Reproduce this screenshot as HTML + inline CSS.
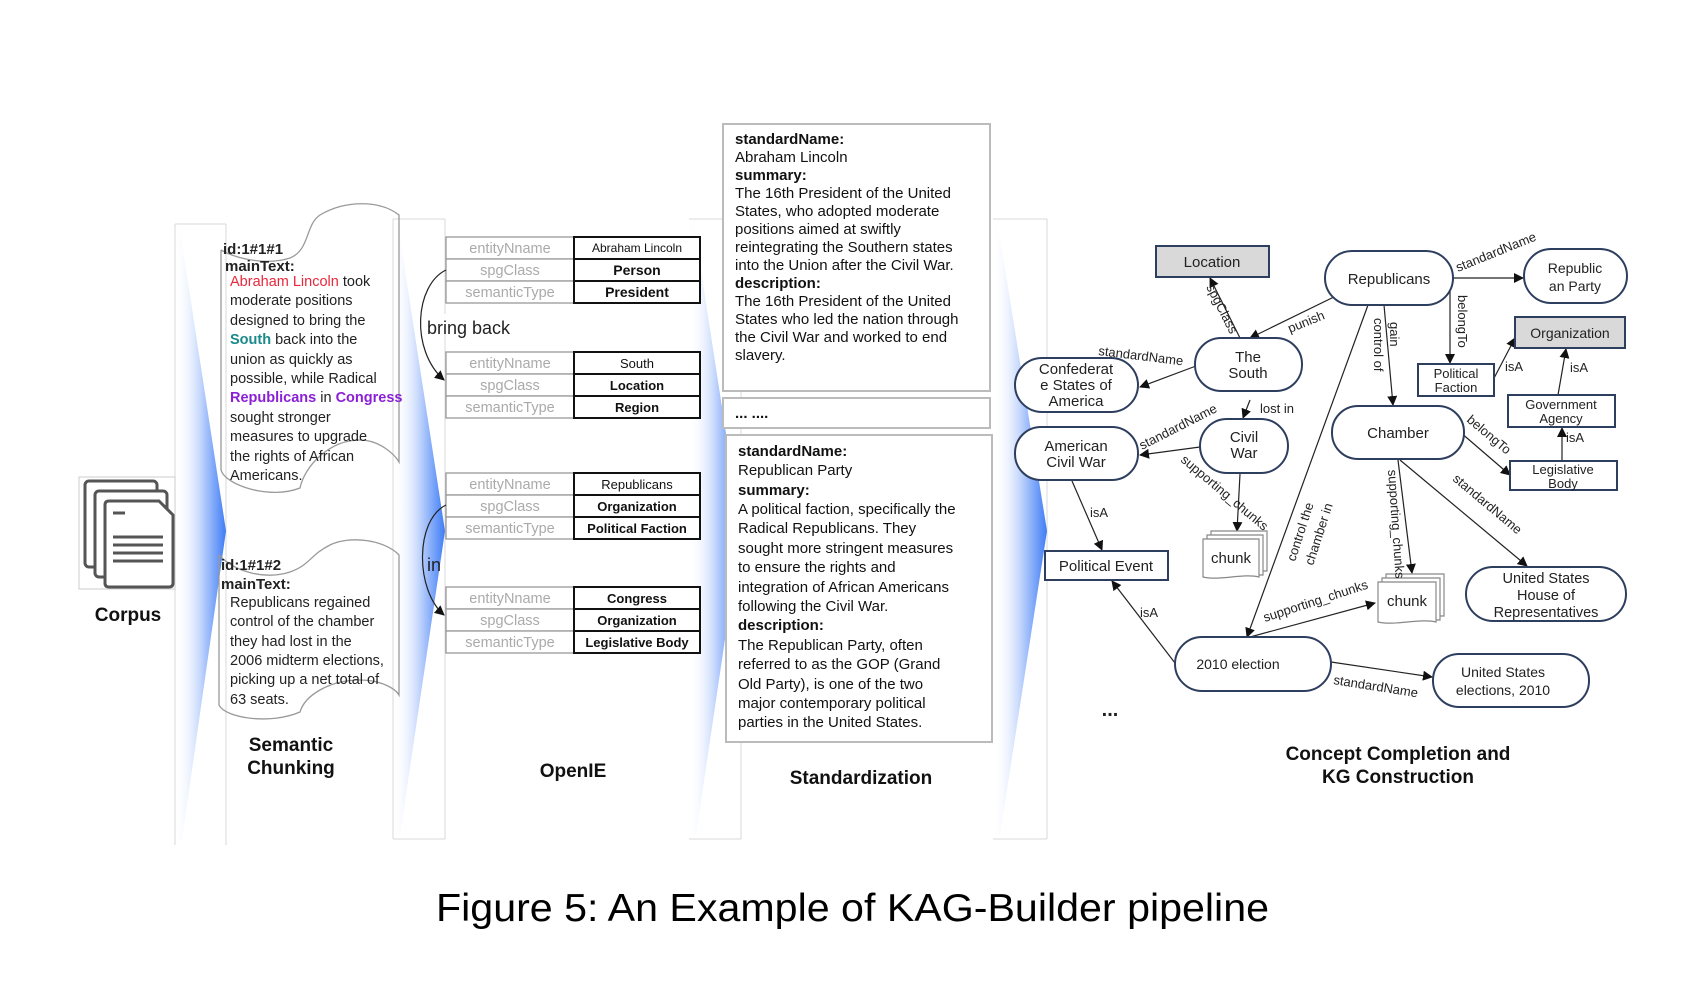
<!DOCTYPE html>
<html><head><meta charset="utf-8"><style>
html,body{margin:0;padding:0;background:#fff;}
svg{display:block;}
text{font-family:"Liberation Sans",Arial,sans-serif;}
</style></head><body>
<svg width="1706" height="996" viewBox="0 0 1706 996" xmlns="http://www.w3.org/2000/svg">
<defs>
<linearGradient id="bg" x1="0" y1="0" x2="1" y2="0">
<stop offset="0" stop-color="#ffffff" stop-opacity="0"/>
<stop offset="0.6" stop-color="#a9c4fb"/>
<stop offset="1" stop-color="#3f7df6"/>
</linearGradient>
<marker id="ar" markerWidth="10" markerHeight="10" refX="9" refY="5" orient="auto" markerUnits="userSpaceOnUse">
<path d="M0,0 L10,5 L0,10 z" fill="#111"/>
</marker>
</defs>

<!-- strips -->
<g stroke="#d8d8d8" stroke-width="1" fill="none">
<path d="M175,224 L226,224 M175,224 L175,845 M226,224 L226,845"/>
<path d="M393,219 L445,219 M393,219 L393,839 M445,219 L445,839 M393,839 L445,839"/>
<path d="M689,219 L741,219 M741,219 L741,839 M689,839 L741,839"/>
<path d="M993,219 L1047,219 M1047,219 L1047,839 M993,839 L1047,839"/>
</g>
<polygon points="180,230 226,531 182,840 175,840 175,230" fill="url(#bg)"/>
<polygon points="398,225 445,531 400,835 393,835 393,225" fill="url(#bg)"/>
<polygon points="694,225 741,531 696,835 689,835 689,225" fill="url(#bg)"/>
<polygon points="998,225 1047,531 1000,835 993,835 993,225" fill="url(#bg)"/>

<!-- corpus -->
<rect x="79" y="477" width="96" height="112" fill="#fff" stroke="#ccc" stroke-width="1"/>
<g fill="#fff" stroke="#555" stroke-width="3">
<rect x="85" y="481" width="72" height="86" rx="4"/>
<rect x="95" y="491" width="72" height="86" rx="4"/>
<path d="M105,505 q0,-4 4,-4 h50 l14,14 v68 q0,4 -4,4 h-60 q-4,0 -4,-4 z"/>
</g>
<g stroke="#555" stroke-width="3">
<line x1="113" y1="513" x2="125" y2="513"/>
<line x1="113" y1="537" x2="163" y2="537"/>
<line x1="113" y1="545" x2="163" y2="545"/>
<line x1="113" y1="553" x2="163" y2="553"/>
<line x1="113" y1="561" x2="163" y2="561"/>
</g>
<text x="128" y="621" font-size="19" font-weight="bold" text-anchor="middle" fill="#111">Corpus</text>

<!-- chunk docs -->
<g fill="none" stroke="#999" stroke-width="1.3">
<path d="M221,250 L221,470 C225,485 270,500 300,488 C305,465 330,440 360,440 C380,440 395,455 399,462 L399,215 C380,200 345,200 320,215 C305,225 310,250 290,258 C265,266 235,258 221,250"/>
<path d="M219,555 L219,705 C225,718 270,725 300,712 C305,695 330,680 360,680 C380,680 395,688 399,695 L399,555 C385,540 350,535 330,545 C310,555 310,565 290,572 C265,580 235,572 219,555"/>
</g>
<g font-size="14.5" fill="#222">
<text x="223" y="254" font-weight="bold" font-size="15">id:1#1#1</text>
<text x="225" y="271" font-weight="bold" font-size="15">mainText:</text>
<text x="230" y="286"><tspan fill="#e8283c">Abraham Lincoln</tspan> took</text>
<text x="230" y="305">moderate positions</text>
<text x="230" y="325">designed to bring the</text>
<text x="230" y="344"><tspan fill="#1a8a8a" font-weight="bold">South</tspan> back into the</text>
<text x="230" y="364">union as quickly as</text>
<text x="230" y="383">possible, while Radical</text>
<text x="230" y="402"><tspan fill="#8b1fd6" font-weight="bold">Republicans</tspan> in <tspan fill="#8b1fd6" font-weight="bold">Congress</tspan></text>
<text x="230" y="422">sought stronger</text>
<text x="230" y="441">measures to upgrade</text>
<text x="230" y="461">the rights of African</text>
<text x="230" y="480">Americans.</text>
<text x="221" y="570" font-weight="bold" font-size="15">id:1#1#2</text>
<text x="221" y="589" font-weight="bold" font-size="15">mainText:</text>
<text x="230" y="607">Republicans regained</text>
<text x="230" y="626">control of the chamber</text>
<text x="230" y="646">they had lost in the</text>
<text x="230" y="665">2006 midterm elections,</text>
<text x="230" y="684">picking up a net total of</text>
<text x="230" y="704">63 seats.</text>
</g>
<text x="291" y="751" font-size="19" font-weight="bold" text-anchor="middle" fill="#111">Semantic</text>
<text x="291" y="774" font-size="19" font-weight="bold" text-anchor="middle" fill="#111">Chunking</text>

<!-- OpenIE tables -->
<g id="tables">
<g stroke="#999" stroke-width="1.3" fill="#fff">
<rect x="446" y="237" width="128" height="22"/><rect x="446" y="259" width="128" height="22"/><rect x="446" y="281" width="128" height="22"/>
<rect x="446" y="352" width="128" height="22"/><rect x="446" y="374" width="128" height="22"/><rect x="446" y="396" width="128" height="22"/>
<rect x="446" y="473" width="128" height="22"/><rect x="446" y="495" width="128" height="22"/><rect x="446" y="517" width="128" height="22"/>
<rect x="446" y="587" width="128" height="22"/><rect x="446" y="609" width="128" height="22"/><rect x="446" y="631" width="128" height="22"/>
</g>
<g stroke="#111" stroke-width="2" fill="#fff">
<rect x="574" y="237" width="126" height="22"/><rect x="574" y="259" width="126" height="22"/><rect x="574" y="281" width="126" height="22"/>
<rect x="574" y="352" width="126" height="22"/><rect x="574" y="374" width="126" height="22"/><rect x="574" y="396" width="126" height="22"/>
<rect x="574" y="473" width="126" height="22"/><rect x="574" y="495" width="126" height="22"/><rect x="574" y="517" width="126" height="22"/>
<rect x="574" y="587" width="126" height="22"/><rect x="574" y="609" width="126" height="22"/><rect x="574" y="631" width="126" height="22"/>
</g>
<g fill="#aaa" font-size="14.5" text-anchor="middle">
<text x="510" y="253">entityNname</text><text x="510" y="275">spgClass</text><text x="510" y="297">semanticType</text>
<text x="510" y="368">entityNname</text><text x="510" y="390">spgClass</text><text x="510" y="412">semanticType</text>
<text x="510" y="489">entityNname</text><text x="510" y="511">spgClass</text><text x="510" y="533">semanticType</text>
<text x="510" y="603">entityNname</text><text x="510" y="625">spgClass</text><text x="510" y="647">semanticType</text>
</g>
<g fill="#111" font-size="13" text-anchor="middle">
<text x="637" y="252" font-size="12">Abraham Lincoln</text>
<text x="637" y="275" font-weight="bold" font-size="14">Person</text>
<text x="637" y="297" font-weight="bold" font-size="14">President</text>
<text x="637" y="368">South</text>
<text x="637" y="390" font-weight="bold">Location</text>
<text x="637" y="412" font-weight="bold">Region</text>
<text x="637" y="489">Republicans</text>
<text x="637" y="511" font-weight="bold">Organization</text>
<text x="637" y="533" font-weight="bold">Political Faction</text>
<text x="637" y="603" font-weight="bold">Congress</text>
<text x="637" y="625" font-weight="bold">Organization</text>
<text x="637" y="647" font-weight="bold">Legislative Body</text>
</g>
</g>
<path d="M446,270 C415,285 410,350 444,380" fill="none" stroke="#222" stroke-width="1.2" marker-end="url(#ar)"/>
<path d="M446,505 C415,520 415,590 444,615" fill="none" stroke="#222" stroke-width="1.2" marker-end="url(#ar)"/>
<rect x="424" y="314" width="90" height="20" fill="#fff"/>
<text x="427" y="334" font-size="18" fill="#222">bring back</text>
<text x="427" y="571" font-size="18" fill="#222">in</text>
<text x="573" y="777" font-size="19" font-weight="bold" text-anchor="middle" fill="#111">OpenIE</text>

<!-- Standardization -->
<g fill="#fff" stroke="#bbb" stroke-width="2">
<rect x="723" y="124" width="267" height="267"/>
<rect x="723" y="398" width="267" height="30"/>
<rect x="726" y="435" width="266" height="307"/>
</g>
<g font-size="15" fill="#111">
<text x="735" y="144" font-weight="bold">standardName:</text>
<text x="735" y="162">Abraham Lincoln</text>
<text x="735" y="180" font-weight="bold">summary:</text>
<text x="735" y="198">The 16th President of the United</text>
<text x="735" y="216">States, who adopted moderate</text>
<text x="735" y="234">positions aimed at swiftly</text>
<text x="735" y="252">reintegrating the Southern states</text>
<text x="735" y="270">into the Union after the Civil War.</text>
<text x="735" y="288" font-weight="bold">description:</text>
<text x="735" y="306">The 16th President of the United</text>
<text x="735" y="324">States who led the nation through</text>
<text x="735" y="342">the Civil War and worked to end</text>
<text x="735" y="360">slavery.</text>
<text x="735" y="418" font-weight="bold">... ....</text>
<text x="738" y="456" font-weight="bold">standardName:</text>
<text x="738" y="475">Republican Party</text>
<text x="738" y="495" font-weight="bold">summary:</text>
<text x="738" y="514">A political faction, specifically the</text>
<text x="738" y="533">Radical Republicans. They</text>
<text x="738" y="553">sought more stringent measures</text>
<text x="738" y="572">to ensure the rights and</text>
<text x="738" y="592">integration of African Americans</text>
<text x="738" y="611">following the Civil War.</text>
<text x="738" y="630" font-weight="bold">description:</text>
<text x="738" y="650">The Republican Party, often</text>
<text x="738" y="669">referred to as the GOP (Grand</text>
<text x="738" y="689">Old Party), is one of the two</text>
<text x="738" y="708">major contemporary political</text>
<text x="738" y="727">parties in the United States.</text>
</g>
<text x="861" y="784" font-size="19" font-weight="bold" text-anchor="middle" fill="#111">Standardization</text>

<!-- KG edges -->
<g stroke="#222" stroke-width="1.2" fill="none" marker-end="url(#ar)">
<line x1="1240" y1="338" x2="1210" y2="278"/>
<line x1="1340" y1="294" x2="1250" y2="338"/>
<line x1="1196" y1="366" x2="1140" y2="387"/>
<line x1="1250" y1="400" x2="1243" y2="418"/>
<line x1="1200" y1="447" x2="1140" y2="455"/>
<line x1="1240" y1="474" x2="1237" y2="531"/>
<line x1="1072" y1="481" x2="1102" y2="550"/>
<line x1="1175" y1="663" x2="1112" y2="581"/>
<line x1="1368" y1="305" x2="1247" y2="637"/>
<line x1="1250" y1="637" x2="1375" y2="603"/>
<line x1="1384" y1="305" x2="1393" y2="405"/>
<line x1="1453" y1="278" x2="1523" y2="278"/>
<line x1="1450" y1="281" x2="1450" y2="363"/>
<line x1="1492" y1="382" x2="1515" y2="338"/>
<line x1="1558" y1="395" x2="1566" y2="349"/>
<line x1="1562" y1="461" x2="1562" y2="428"/>
<line x1="1460" y1="432" x2="1510" y2="475"/>
<line x1="1398" y1="460" x2="1412" y2="573"/>
<line x1="1400" y1="460" x2="1527" y2="566"/>
<line x1="1331" y1="662" x2="1432" y2="677"/>
</g>

<!-- KG nodes -->
<g stroke="#2d3e5e" stroke-width="2" fill="#fff">
<rect x="1156" y="246" width="113" height="31" fill="#d9d9d9"/>
<rect x="1325" y="251" width="128" height="54" rx="27"/>
<rect x="1524" y="249" width="103" height="54" rx="27"/>
<rect x="1515" y="317" width="110" height="31" fill="#d9d9d9"/>
<rect x="1418" y="364" width="76" height="32"/>
<rect x="1508" y="395" width="107" height="32"/>
<rect x="1510" y="461" width="107" height="29"/>
<rect x="1195" y="338" width="107" height="53" rx="26"/>
<rect x="1015" y="358" width="123" height="54" rx="27"/>
<rect x="1200" y="419" width="88" height="54" rx="27"/>
<rect x="1015" y="427" width="123" height="53" rx="26"/>
<rect x="1332" y="406" width="132" height="53" rx="26"/>
<rect x="1045" y="551" width="123" height="29"/>
<rect x="1466" y="567" width="160" height="54" rx="27"/>
<rect x="1175" y="637" width="156" height="54" rx="27"/>
<rect x="1433" y="654" width="156" height="53" rx="26"/>
</g>
<!-- chunk stacks -->
<g fill="#fff" stroke="#888" stroke-width="1.2">
<path d="M1211,531 h56 v40 h-56 z"/><path d="M1207,535 h56 v40 h-56 z"/>
<path d="M1203,539 h56 v38 c-15,-4 -40,4 -56,0 z"/>
<path d="M1386,574 h58 v42 h-58 z"/><path d="M1382,578 h58 v42 h-58 z"/>
<path d="M1378,582 h58 v40 c-15,-4 -42,4 -58,0 z"/>
</g>
<g font-size="15" fill="#222" text-anchor="middle">
<text x="1212" y="267">Location</text>
<text x="1389" y="284">Republicans</text>
<text x="1575" y="273" font-size="14">Republic</text>
<text x="1575" y="291" font-size="14">an Party</text>
<text x="1570" y="338" font-size="14">Organization</text>
<text x="1456" y="378" font-size="13">Political</text>
<text x="1456" y="392" font-size="13">Faction</text>
<text x="1561" y="409" font-size="13">Government</text>
<text x="1561" y="423" font-size="13">Agency</text>
<text x="1563" y="474" font-size="13">Legislative</text>
<text x="1563" y="488" font-size="13">Body</text>
<text x="1248" y="362">The</text>
<text x="1248" y="378">South</text>
<text x="1076" y="374">Confederat</text>
<text x="1076" y="390">e States of</text>
<text x="1076" y="406">America</text>
<text x="1244" y="442">Civil</text>
<text x="1244" y="458">War</text>
<text x="1076" y="451">American</text>
<text x="1076" y="467">Civil War</text>
<text x="1398" y="438">Chamber</text>
<text x="1106" y="571">Political Event</text>
<text x="1231" y="563">chunk</text>
<text x="1407" y="606">chunk</text>
<text x="1546" y="583" font-size="14.5">United States</text>
<text x="1546" y="600" font-size="14.5">House of</text>
<text x="1546" y="617" font-size="14.5">Representatives</text>
<text x="1238" y="669" font-size="14">2010 election</text>
<text x="1503" y="677" font-size="14">United States</text>
<text x="1503" y="695" font-size="14">elections, 2010</text>
</g>
<!-- edge labels -->
<g font-size="13" fill="#222">
<text transform="translate(1206,287) rotate(63)">spgClass</text>
<text transform="translate(1290,333) rotate(-22)">punish</text>
<text transform="translate(1098,355) rotate(7)">standardName</text>
<text x="1260" y="413">lost in</text>
<text transform="translate(1142,450) rotate(-27)">standardName</text>
<text transform="translate(1180,461) rotate(40)">supporting_chunks</text>
<text x="1090" y="517">isA</text>
<text x="1140" y="617">isA</text>
<text transform="translate(1295,562) rotate(-72)">control the</text>
<text transform="translate(1313,566) rotate(-72)">chamber in</text>
<text transform="translate(1265,622) rotate(-18)">supporting_chunks</text>
<text transform="translate(1390,322) rotate(90)">gain</text>
<text transform="translate(1374,318) rotate(90)">control of</text>
<text transform="translate(1458,272) rotate(-22)">standardName</text>
<text transform="translate(1458,295) rotate(90)">belongTo</text>
<text x="1505" y="371">isA</text>
<text x="1570" y="372">isA</text>
<text x="1566" y="442">isA</text>
<text transform="translate(1466,421) rotate(40)">belongTo</text>
<text transform="translate(1388,470) rotate(86)">supporting_chunks</text>
<text transform="translate(1452,480) rotate(40)">standardName</text>
<text transform="translate(1333,684) rotate(9)">standardName</text>
</g>
<text x="1110" y="716" font-size="20" font-weight="bold" fill="#222" text-anchor="middle">...</text>
<text x="1398" y="760" font-size="19" font-weight="bold" text-anchor="middle" fill="#111">Concept Completion and</text>
<text x="1398" y="783" font-size="19" font-weight="bold" text-anchor="middle" fill="#111">KG Construction</text>

<!-- caption -->
<text x="436" y="921" font-family="Liberation Serif, serif" font-size="39" fill="#000" textLength="833" lengthAdjust="spacingAndGlyphs">Figure 5: An Example of KAG-Builder pipeline</text>
</svg>
</body></html>
